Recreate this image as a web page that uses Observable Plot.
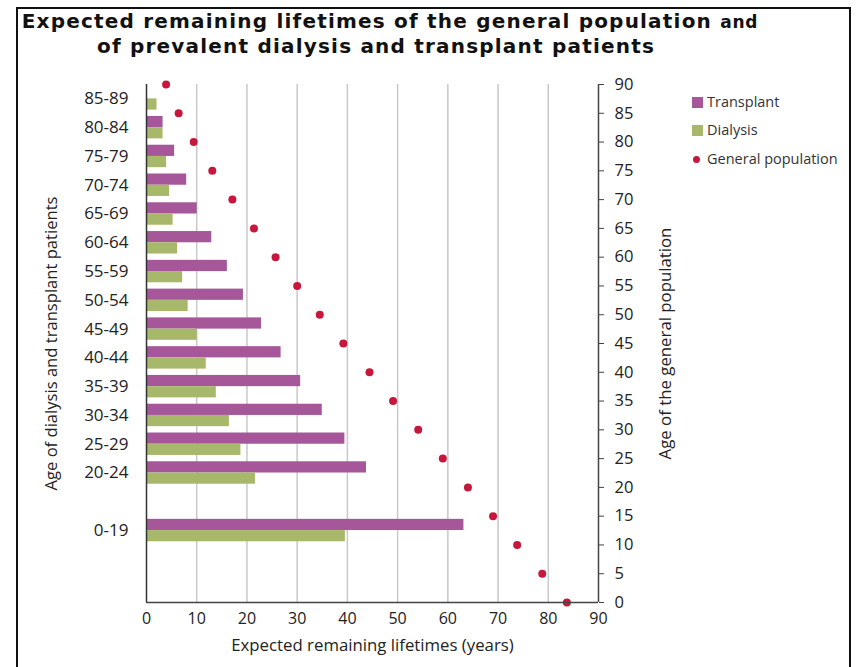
<!DOCTYPE html>
<html>
<head>
<meta charset="utf-8">
<script src="https://cdn.jsdelivr.net/npm/d3@7"></script>
<script src="https://cdn.jsdelivr.net/npm/@observablehq/plot@0.6"></script>
<style>
  html, body { margin: 0; padding: 0; background: #fff; }
  #page { position: relative; width: 864px; height: 667px; overflow: hidden; font-family: "Open Sans", sans-serif; }
  #frame { position: absolute; left: 16px; top: 7px; width: 835px; height: 680px; border: 2px solid #111; border-bottom: none; box-sizing: border-box; }
  .title { position: absolute; font-family: "DejaVu Sans", sans-serif; font-weight: bold; font-size: 20px; letter-spacing: 1.2px; color: #111; white-space: nowrap; transform: translateX(-50%); }
  #chart { position: absolute; left: 0; top: 70px; }
  .leg { position: absolute; font-size: 14.5px; color: #333; white-space: nowrap; }
  .sw { position: absolute; width: 11px; height: 11px; }
</style>
</head>
<body>
<div id="page">
  <div id="frame"></div>
  <div class="title" style="left:390px; top:9px;">Expected remaining lifetimes of the general population <span style="font-size:17px; letter-spacing:0.8px;">and</span></div>
  <div class="title" style="left:376px; top:34px;">of prevalent dialysis and transplant patients</div>
  <div id="chart"></div>
  <div class="sw" style="left:692px; top:97px; background:#a5579a;"></div>
  <div class="leg" style="left:707px; top:92px;">Transplant</div>
  <div class="sw" style="left:692px; top:125px; background:#a8b86b;"></div>
  <div class="leg" style="left:707px; top:120px;">Dialysis</div>
  <div class="sw" style="left:693px; top:156px; width:7px; height:7px; border-radius:50%; background:#c8173d;"></div>
  <div class="leg" style="left:707px; top:149px;">General population</div>
</div>
<script>
// Patient age groups (dialysis & transplant)
const ageGroups = ["0-19","20-24","25-29","30-34","35-39","40-44","45-49","50-54","55-59","60-64","65-69","70-74","75-79","80-84","85-89"];
const transplant = [63.2, 43.8, 39.5, 35.0, 30.7, 26.8, 22.9, 19.3, 16.1, 13.0, 10.1, 8.0, 5.6, 3.3, null];
const dialysis   = [39.6, 21.7, 18.8, 16.5, 13.9, 11.9, 10.1, 8.3, 7.2, 6.2, 5.3, 4.6, 4.0, 3.3, 2.1];

// General population
const genAge  = [0, 5, 10, 15, 20, 25, 30, 35, 40, 45, 50, 55, 60, 65, 70, 75, 80, 85, 90];
const genLife = [83.7, 78.8, 73.8, 69.0, 64.0, 59.0, 54.1, 49.1, 44.4, 39.2, 34.5, 30.0, 25.7, 21.4, 17.1, 13.1, 9.4, 6.4, 3.9];

const xTicks = [0, 10, 20, 30, 40, 50, 60, 70, 80, 90];
const yRightTicks = [0, 5, 10, 15, 20, 25, 30, 35, 40, 45, 50, 55, 60, 65, 70, 75, 80, 85, 90];

// Layout: each group sits in a 5-year slot on the shared age axis; "0-19" sits in the 10-15 slot.
const slotCenter = g => { const lo = +g.split("-")[0]; return (lo >= 20 ? lo : 10) + 2.5; };
const half = 1.95;

const rows = ageGroups.map((g, i) => ({group: g, c: slotCenter(g), transplant: transplant[i], dialysis: dialysis[i]}));
const gen = genAge.map((a, i) => ({age: a, life: genLife[i]}));
const labelAt = new Map(rows.map(r => [r.c, r.group]));

const chart = Plot.plot({
  width: 864,
  height: 595,
  marginTop: 14,
  marginBottom: 63,
  marginLeft: 146,
  marginRight: 266,
  x: {domain: [0, 90]},
  y: {domain: [0, 90]},
  style: {fontFamily: "Open Sans", fontSize: "16px", color: "#222", background: "transparent"},
  marks: [
    Plot.gridX(xTicks.filter(d => d > 0 && d < 90), {stroke: "#c9c9c9", strokeOpacity: 1, strokeWidth: 1.5}),
    Plot.rectX(rows.filter(r => r.transplant != null), {x1: 0, x2: "transplant", y1: d => d.c, y2: d => d.c + half, fill: "#a5579a"}),
    Plot.rectX(rows, {x1: 0, x2: "dialysis", y1: d => d.c - half, y2: d => d.c, fill: "#a8b86b"}),
    Plot.dot(gen, {x: "life", y: "age", r: 4, fill: "#c8173d", stroke: "none"}),
    Plot.ruleX([0], {stroke: "#333", strokeWidth: 1.5}),
    Plot.ruleX([90], {stroke: "#444", strokeWidth: 1.5}),
    Plot.ruleY([0], {stroke: "#444", strokeWidth: 1.5}),
    Plot.axisX({ticks: xTicks, tickSize: 0, tickPadding: 10, fontSize: 16, label: null}),
    Plot.axisX({ticks: [], tickSize: 0, fontSize: 16.8, label: "Expected remaining lifetimes (years)", labelAnchor: "center", labelArrow: "none", labelOffset: 48}),
    Plot.axisY({anchor: "left", ticks: rows.map(r => r.c), tickFormat: d => labelAt.get(d), tickSize: 0, tickPadding: 18, fontSize: 17, label: null}),
    Plot.axisY({anchor: "left", ticks: [], tickSize: 0, fontSize: 16.6, label: "Age of dialysis and transplant patients", labelAnchor: "center", labelArrow: "none", labelOffset: 101}),
    Plot.axisY({anchor: "right", ticks: yRightTicks, tickSize: 5, tickPadding: 11, stroke: "#444", fontSize: 16.5, label: null}),
    Plot.axisY({anchor: "right", ticks: [], tickSize: 0, fontSize: 16.8, label: "Age of the general population", labelAnchor: "center", labelArrow: "none", labelOffset: 72})
  ]
});
document.getElementById("chart").appendChild(chart);
</script>
</body>
</html>
